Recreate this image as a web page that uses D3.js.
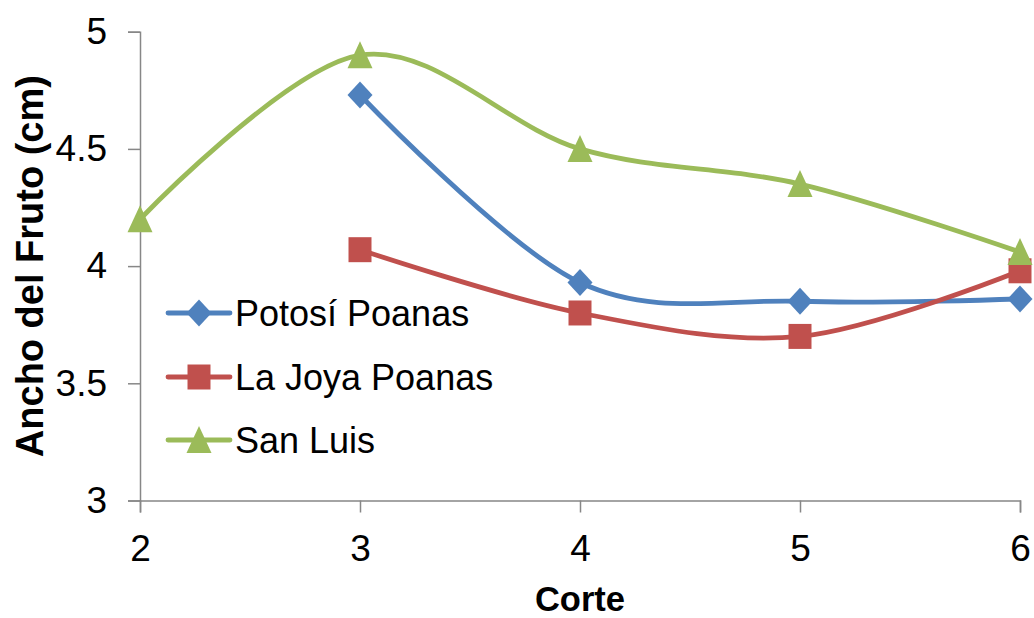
<!DOCTYPE html>
<html>
<head>
<meta charset="utf-8">
<script src="https://cdn.jsdelivr.net/npm/d3@7"></script>
<style>
  html, body { margin: 0; padding: 0; background: #fff; }
  svg { display: block; font-family: "Liberation Sans", Arial, sans-serif; }
</style>
</head>
<body>
<svg id="chart" width="1034" height="618"></svg>
<script>
// Fruit width per harvest cut, three localities
const cortes = [2, 3, 4, 5, 6];
const yTicks = [3, 3.5, 4, 4.5, 5];
const potosiPoanas = [null, 4.73, 3.93, 3.85, 3.86];
const laJoyaPoanas = [null, 4.07, 3.80, 3.70, 3.98];
const sanLuis = [4.20, 4.90, 4.50, 4.35, 4.06];
const seriesNames = ["Potosí Poanas", "La Joya Poanas", "San Luis"];
const seriesColors = ["#4F81BD", "#C0504D", "#9BBB59"];
const seriesMarkers = ["diamond", "square", "triangle"];

const series = [potosiPoanas, laJoyaPoanas, sanLuis].map((vals, i) => ({
  name: seriesNames[i],
  color: seriesColors[i],
  marker: seriesMarkers[i],
  points: cortes.map((c, j) => ({ x: c, y: vals[j] })).filter(p => p.y != null)
}));

const svg = d3.select("#chart");
const plotLeft = 140, plotRight = 1020, plotTop = 31.7, plotBottom = 500.5;

const x = d3.scaleLinear().domain([2, 6]).range([plotLeft, plotRight]);
const y = d3.scaleLinear().domain([3, 5]).range([plotBottom, plotTop]);

const axisColor = "#878787";
const tickFont = 37;

// Y axis
const yAxis = svg.append("g")
  .attr("transform", `translate(${plotLeft},0)`)
  .call(d3.axisLeft(y).tickValues(yTicks).tickSize(12).tickPadding(21)
    .tickFormat(d => d3.format("")(d)));
yAxis.select(".domain").attr("stroke", axisColor).attr("stroke-width", 1.5);
yAxis.selectAll(".tick line").attr("stroke", axisColor).attr("stroke-width", 1.5);
yAxis.selectAll(".tick text").attr("font-size", tickFont).attr("fill", "#000")
  .attr("font-family", "Liberation Sans, Arial, sans-serif");

// X axis
const xAxis = svg.append("g")
  .attr("transform", `translate(0,${plotBottom})`)
  .call(d3.axisBottom(x).tickValues(cortes).tickSize(12).tickPadding(22)
    .tickFormat(d3.format("d")));
xAxis.select(".domain").attr("stroke", axisColor).attr("stroke-width", 1.5);
xAxis.selectAll(".tick line").attr("stroke", axisColor).attr("stroke-width", 1.5);
xAxis.selectAll(".tick text").attr("font-size", tickFont).attr("fill", "#000")
  .attr("font-family", "Liberation Sans, Arial, sans-serif");

// Axis titles
svg.append("text")
  .attr("x", (plotLeft + plotRight) / 2).attr("y", 611)
  .attr("text-anchor", "middle")
  .attr("font-size", 34.5).attr("font-weight", "bold")
  .text("Corte");

svg.append("text")
  .attr("transform", `translate(43,${(plotTop + plotBottom) / 2}) rotate(-90)`)
  .attr("text-anchor", "middle")
  .attr("font-size", 38).attr("font-weight", "bold")
  .text("Ancho del Fruto (cm)");

// Smoothed lines
const line = d3.line()
  .x(d => x(d.x)).y(d => y(d.y))
  .curve(d3.curveCatmullRom.alpha(0));

function markerPath(kind) {
  if (kind === "diamond") return "M0,-13.5L12.5,0L0,13.5L-12.5,0Z";
  if (kind === "square") return "M-11.5,-12.5H11.5V12.5H-11.5Z";
  return "M0,-14L12.5,13H-12.5Z";
}

series.forEach(s => {
  svg.append("path")
    .datum(s.points)
    .attr("fill", "none")
    .attr("stroke", s.color)
    .attr("stroke-width", 4.8)
    .attr("stroke-linejoin", "round")
    .attr("d", line);
});

series.forEach(s => {
  svg.append("g").selectAll("path")
    .data(s.points)
    .join("path")
    .attr("transform", d => `translate(${x(d.x)},${y(d.y)})`)
    .attr("d", markerPath(s.marker))
    .attr("fill", s.color);
});

// Legend
const legendRows = [313, 377, 440];
series.forEach((s, i) => {
  const g = svg.append("g").attr("transform", `translate(0,${legendRows[i]})`);
  g.append("line")
    .attr("x1", 168).attr("x2", 230).attr("y1", 0).attr("y2", 0)
    .attr("stroke", s.color).attr("stroke-width", 4.8).attr("stroke-linecap", "round");
  g.append("path")
    .attr("transform", "translate(199,0)")
    .attr("d", markerPath(s.marker))
    .attr("fill", s.color);
  g.append("text")
    .attr("x", 235).attr("y", 0).attr("dy", "0.36em")
    .attr("font-size", 36).attr("fill", "#000")
    .text(s.name);
});
</script>
</body>
</html>
